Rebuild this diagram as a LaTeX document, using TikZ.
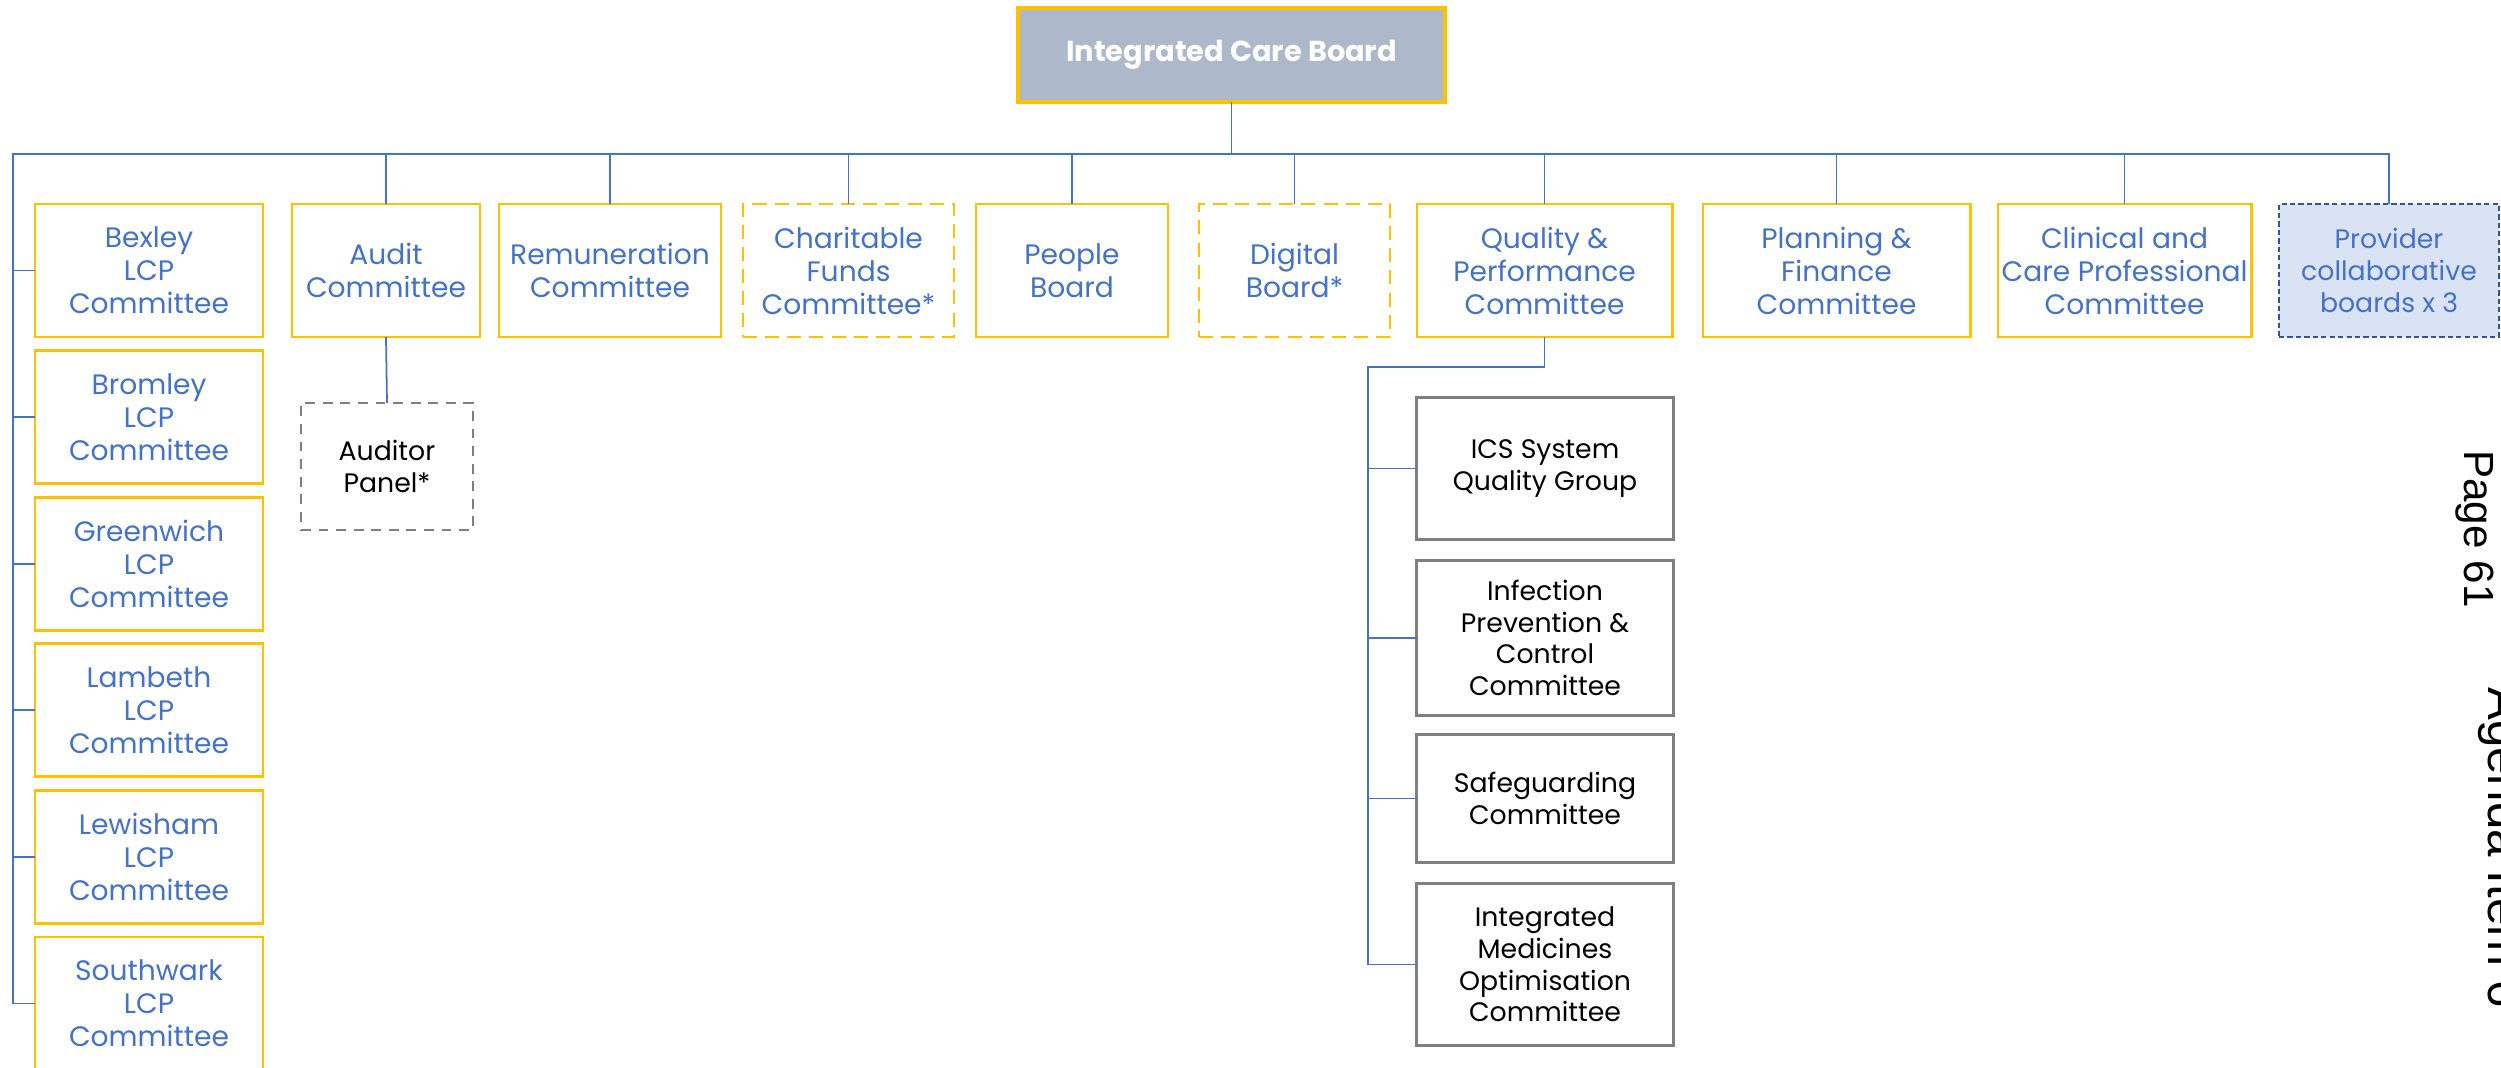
\documentclass[tikz,border=0pt]{standalone}
\usepackage{fontspec}
\setmainfont{Poppins}
\newfontfamily\pagefont{Liberation Sans}
\usepackage{tikz}
\usetikzlibrary{positioning,calc}
\definecolor{icbgrey}{HTML}{ADB9CA}
\definecolor{boardgold}{HTML}{FFC000}
\definecolor{linkblue}{HTML}{4472C4}
\definecolor{provfill}{HTML}{DAE3F3}
\definecolor{provedge}{HTML}{2F5597}
\definecolor{subgrey}{HTML}{7F7F7F}

\begin{document}
\begin{tikzpicture}[x=0.01cm, y=-0.01cm,
    box/.style={rectangle, inner sep=0pt, outer sep=0pt, align=center, minimum height=1.33cm},
    goldbox/.style={box, draw=boardgold, line width=0.8pt, text=linkblue, font=\fontsize{8}{9.4}\selectfont},
    golddash/.style={goldbox, dash pattern=on 4pt off 2.3pt},
    subbox/.style={box, draw=subgrey, line width=0.85pt, minimum width=2.56cm, font=\fontsize{7.6}{9}\selectfont},
    panelbox/.style={box, draw=subgrey, line width=0.8pt, dash pattern=on 2.8pt off 2.2pt, font=\fontsize{7.6}{9}\selectfont},
    provbox/.style={box, draw=provedge, fill=provfill, line width=0.7pt, dash pattern=on 1.5pt off 0.9pt, text=linkblue, font=\fontsize{7.6}{9}\selectfont},
    link/.style={draw=linkblue, line width=0.5pt}]
    \clip (0,0) rectangle (2501,1068);

    % Board at the top
    \node[box, draw=boardgold, fill=icbgrey, line width=1pt, minimum width=4.27cm, minimum height=0.94cm,
          text=white, font=\fontsize{8.2}{10}\selectfont\bfseries] (icb) at (1231.5, 55) {Integrated Care Board};

    % Bus line
    \coordinate (busL) at (13, 154);

    % LCP committees down the left
    \foreach \name/\lbl [count=\i from 0] in {bexley/Bexley, bromley/Bromley, greenwich/Greenwich,
            lambeth/Lambeth, lewisham/Lewisham, southwark/Southwark} {
        \node[goldbox, minimum width=2.28cm] (\name) at (149, 270.5+146.6*\i) {\lbl\\LCP\\Committee};
    }

    % Committees and boards in the top row
    \node[goldbox, minimum width=1.88cm] (audit) at (386, 270.5) {Audit\\Committee};
    \node[goldbox, minimum width=2.22cm] (remun) at (610, 270.5) {Remuneration\\Committee};
    \node[golddash, minimum width=2.11cm] (charity) at (848.5, 270.5) {Charitable\\Funds\\Committee*};
    \node[goldbox, minimum width=1.92cm] (people) at (1072, 270.5) {People\\Board};
    \node[golddash, minimum width=1.91cm] (digital) at (1294.5, 270.5) {Digital\\Board*};
    \node[goldbox, minimum width=2.55cm] (quality) at (1544.5, 270.5) {Quality \&\\Performance\\Committee};
    \node[goldbox, minimum width=2.67cm] (planning) at (1836.5, 270.5) {Planning \&\\Finance\\Committee};
    \node[goldbox, minimum width=2.53cm] (clinical) at (2124.5, 270.5) {Clinical and\\Care Professional\\Committee};
    \node[provbox, minimum width=2.20cm] (provider) at (2389, 270.5) {Provider\\collaborative\\boards x 3};

    % Audit sub-panel
    \node[panelbox, minimum width=1.72cm, minimum height=1.27cm] (panel) at (387, 466.5) {Auditor\\Panel*};

    % Quality sub-groups
    \node[subbox, minimum height=1.41cm] (ics) at (1545, 468.5) {ICS System\\Quality Group};
    \node[subbox, minimum height=1.54cm] (ipc) at (1545, 638) {Infection\\Prevention \&\\Control\\Committee};
    \node[subbox, minimum height=1.27cm] (safe) at (1545, 798.5) {Safeguarding\\Committee};
    \node[subbox, minimum height=1.61cm] (imoc) at (1545, 964.5) {Integrated\\Medicines\\Optimisation\\Committee};

    % Connectors
    \draw[link] (icb.south) -- (icb.south |- busL);
    \draw[link] (southwark.west) -| (busL) -- (busL -| provider.north) -- (provider.north);
    \foreach \name in {bexley,bromley,greenwich,lambeth,lewisham}
        \draw[link] (\name.west -| busL) -- (\name.west);
    \foreach \name in {audit,remun,charity,people,digital,quality,planning,clinical}
        \draw[link] (\name.north) -- (\name.north |- busL);
    \draw[link] (audit.south) -- (panel.north);
    \coordinate (qsplit) at (1368, 367);
    \draw[link] (quality.south) |- (qsplit) |- (imoc.west);
    \foreach \name in {ics,ipc,safe}
        \draw[link] (\name.west -| qsplit) -- (\name.west);

    % Page stamp on the right edge
    \node[rotate=-90, anchor=mid, font=\pagefont\fontsize{12}{14}\selectfont] (pagenum) at (2474, 529) {Page 61};
    \node[rotate=-90, anchor=mid, font=\pagefont\fontsize{14}{16}\selectfont] (agenda) at (2498, 847.5) {Agenda Item 6};
\end{tikzpicture}
\end{document}
